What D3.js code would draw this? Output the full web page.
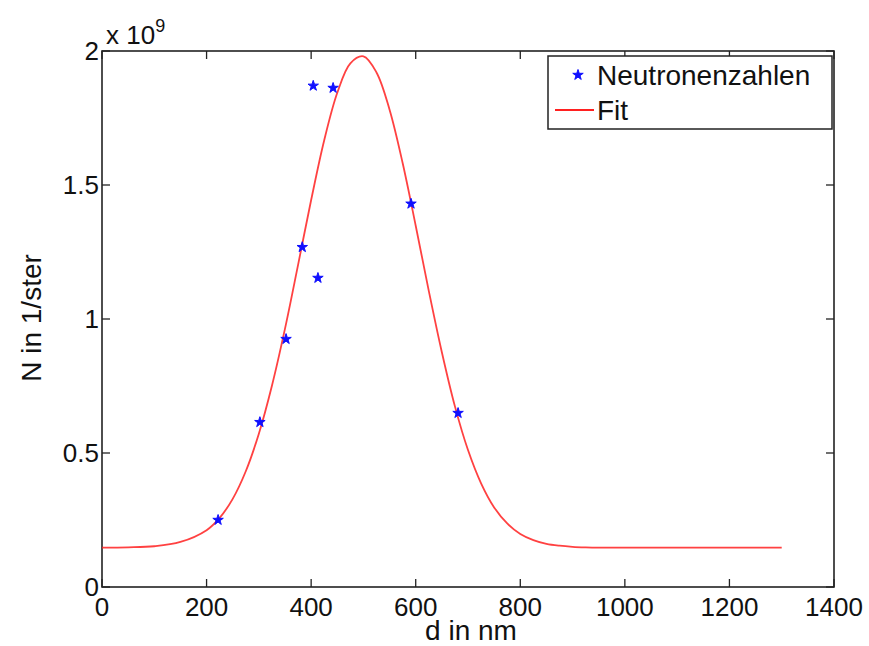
<!DOCTYPE html>
<html><head><meta charset="utf-8">
<script src="https://cdn.jsdelivr.net/npm/d3@7"></script>
<style>body{margin:0;background:#fff}svg{display:block}text{font-family:"Liberation Sans",Arial,sans-serif;fill:#111}</style>
</head><body>
<script>
// Measured data (d in nm, N in 1/ster)
const pointX = [222, 302, 352, 383, 404, 413, 442, 591, 681];
const pointY = [0.25e9, 0.615e9, 0.925e9, 1.268e9, 1.870e9, 1.153e9, 1.862e9, 1.430e9, 0.649e9];
// Fit curve
const fitX = [0, 50, 100, 150, 200, 225, 250, 275, 300, 325, 350, 375, 400, 425, 450, 475, 500, 525, 550, 575, 600, 625, 650, 675, 700, 725, 750, 775, 800, 825, 850, 875, 900, 925, 950, 1000, 1100, 1200, 1300];
const fitY = [0.147e9, 0.148e9, 0.152e9, 0.168e9, 0.212e9, 0.258e9, 0.329e9, 0.432e9, 0.572e9, 0.751e9, 0.964e9, 1.202e9, 1.444e9, 1.667e9, 1.844e9, 1.954e9, 1.980e9, 1.920e9, 1.781e9, 1.582e9, 1.348e9, 1.105e9, 0.876e9, 0.674e9, 0.511e9, 0.387e9, 0.297e9, 0.237e9, 0.198e9, 0.175e9, 0.161e9, 0.154e9, 0.150e9, 0.148e9, 0.147e9, 0.147e9, 0.147e9, 0.147e9, 0.147e9];
const xTicks = [0, 200, 400, 600, 800, 1000, 1200, 1400];
const yTicks = [0, 0.5e9, 1e9, 1.5e9, 2e9];
const yTickLabels = ["0", "0.5", "1", "1.5", "2"];
const legendLabels = ["Neutronenzahlen", "Fit"];

const W = 869, H = 646;
const L = 102, R = 834, T = 51, B = 587;
const svg = d3.select("body").append("svg").attr("width", W).attr("height", H);
const x = d3.scaleLinear().domain([0, 1400]).range([L, R]);
const y = d3.scaleLinear().domain([0, 2e9]).range([B, T]);

// axes box
const ax = "#222";
svg.append("rect").attr("x", L).attr("y", T).attr("width", R - L).attr("height", B - T)
  .attr("fill", "none").attr("stroke", ax).attr("stroke-width", 1.6);

// x ticks bottom and top
const tl = 8;
svg.append("g").selectAll("line.xb").data(xTicks).join("line")
  .attr("x1", d => x(d)).attr("x2", d => x(d)).attr("y1", B).attr("y2", B - tl).attr("stroke", ax).attr("stroke-width", 1.3);
svg.append("g").selectAll("line.xt").data(xTicks).join("line")
  .attr("x1", d => x(d)).attr("x2", d => x(d)).attr("y1", T).attr("y2", T + tl).attr("stroke", ax).attr("stroke-width", 1.3);
svg.append("g").selectAll("line.yl").data(yTicks).join("line")
  .attr("x1", L).attr("x2", L + tl).attr("y1", d => y(d)).attr("y2", d => y(d)).attr("stroke", ax).attr("stroke-width", 1.3);
svg.append("g").selectAll("line.yr").data(yTicks).join("line")
  .attr("x1", R).attr("x2", R - tl).attr("y1", d => y(d)).attr("y2", d => y(d)).attr("stroke", ax).attr("stroke-width", 1.3);

// tick labels
svg.append("g").selectAll("text").data(xTicks).join("text")
  .attr("x", d => x(d)).attr("y", B + 29).attr("text-anchor", "middle")
  .attr("font-size", 26).text(d => d);
svg.append("g").selectAll("text").data(yTicks).join("text")
  .attr("x", L - 3).attr("y", d => y(d) + 9).attr("text-anchor", "end")
  .attr("font-size", 26).text((d, i) => yTickLabels[i]);

// multiplier
const mult = svg.append("text").attr("x", 106).attr("y", 44).attr("font-size", 26);
mult.append("tspan").text("x 10");
mult.append("tspan").attr("dy", -12).attr("font-size", 18).text("9");

// axis labels
svg.append("text").attr("x", (L + R) / 2 + 3).attr("y", 640).attr("text-anchor", "middle")
  .attr("font-size", 28).text("d in nm");
svg.append("text").attr("transform", "translate(41,318) rotate(-90)")
  .attr("text-anchor", "middle").attr("font-size", 28).text("N in 1/ster");

// fit curve
const line = d3.line().x(d => x(d[0])).y(d => y(d[1])).curve(d3.curveCatmullRom);
svg.append("path").datum(fitX.map((v, i) => [v, fitY[i]]))
  .attr("d", line).attr("fill", "none").attr("stroke", "#ff2020").attr("stroke-width", 1.8).attr("stroke-opacity", 0.85);

// points
const star = d3.symbol().type(d3.symbolStar).size(34);
svg.append("g").selectAll("path").data(pointX.map((v, i) => [v, pointY[i]])).join("path")
  .attr("d", star).attr("transform", d => `translate(${x(d[0])},${y(d[1])})`)
  .attr("fill", "#1010ff").attr("stroke", "#1010ff").attr("stroke-width", 1);

// legend
const lg = svg.append("g");
lg.append("rect").attr("x", 548).attr("y", 56).attr("width", 284).attr("height", 73)
  .attr("fill", "#fff").attr("stroke", ax).attr("stroke-width", 1.5);
lg.append("path").attr("d", d3.symbol().type(d3.symbolStar).size(34))
  .attr("transform", "translate(578,75)").attr("fill", "#1010ff").attr("stroke", "#1010ff");
lg.append("line").attr("x1", 555).attr("x2", 594).attr("y1", 110).attr("y2", 110)
  .attr("stroke", "#ff2020").attr("stroke-width", 2);
lg.append("text").attr("x", 597).attr("y", 85).attr("font-size", 28).text(legendLabels[0]);
lg.append("text").attr("x", 597).attr("y", 120).attr("font-size", 28).text(legendLabels[1]);
</script>
</body></html>
